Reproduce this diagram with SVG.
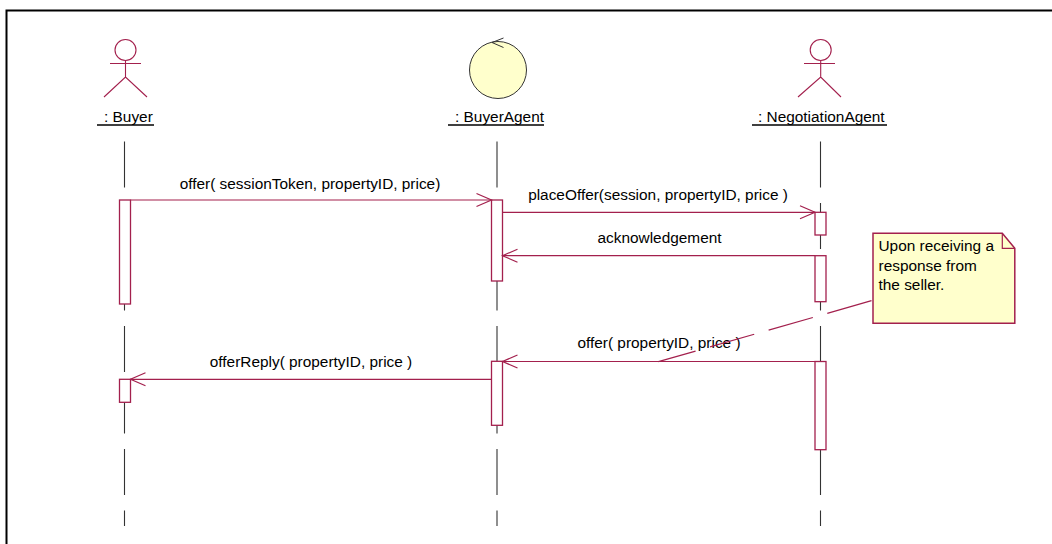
<svg xmlns="http://www.w3.org/2000/svg" width="1052" height="544" viewBox="0 0 1052 544">
<defs>
<style>
text{font-family:"Liberation Sans",Arial,sans-serif;font-size:15.4px;fill:#000}
.mid{text-anchor:middle}
.actor{fill:none;stroke:#A3204D;stroke-width:1.1}
.ul{stroke:#000;stroke-width:1.3}
.life{stroke:#333;stroke-width:1.1;stroke-dasharray:46 15.5}
.act{fill:#fff;stroke:#A3204D;stroke-width:1.3}
.msg{stroke:#A3204D;stroke-width:1.2;fill:none}
.frame{stroke:#000;stroke-width:2;fill:none}
</style>
<marker id="arr" markerUnits="userSpaceOnUse" markerWidth="17" markerHeight="15" refX="15" refY="7" orient="auto" overflow="visible">
<path d="M0,0.5 L15,7 L0,13.5" fill="none" stroke="#A3204D" stroke-width="1.2"/>
</marker>
</defs>
<rect width="1052" height="544" fill="#fff"/>
<path class="frame" d="M6.5,545 V10.5 H1052"/>

<g id="buyer">
<circle class="actor" cx="125.5" cy="50" r="10.5"/>
<path class="actor" d="M125.5,60.5 V77 M110,63.5 H141 M104,97 L125.5,77 L147,97"/>
<text x="104" y="122">: Buyer</text>
<line class="ul" x1="97" y1="125" x2="154" y2="125"/>
<line class="life" x1="124.5" y1="141.5" x2="124.5" y2="526"/>
<rect class="act" x="119.5" y="200" width="11" height="104"/>
<rect class="act" x="119.5" y="379.3" width="11" height="23"/>
</g>

<g id="buyerAgent">
<circle cx="498" cy="70" r="28.5" fill="#FFFFCC" stroke="#333" stroke-width="1"/>
<polyline points="503.5,38 492,42.5 503.5,47.5" fill="none" stroke="#333" stroke-width="1"/>
<text x="455" y="122">: BuyerAgent</text>
<line class="ul" x1="448" y1="125" x2="544" y2="125"/>
<line class="life" x1="497" y1="141.5" x2="497" y2="526"/>
<rect class="act" x="491.5" y="200" width="11" height="81"/>
<rect class="act" x="491.5" y="361.3" width="11" height="64"/>
</g>

<g id="negotiationAgent">
<circle class="actor" cx="820.7" cy="50" r="10.5"/>
<path class="actor" d="M820.7,60.5 V77 M804,63.5 H835 M798,97 L820.7,77 L841,97"/>
<text x="758" y="122">: NegotiationAgent</text>
<line class="ul" x1="752" y1="125" x2="887" y2="125"/>
<line class="life" x1="820.5" y1="141.5" x2="820.5" y2="526" stroke="#555"/>
<rect class="act" x="815" y="212.3" width="11" height="22.7"/>
<rect class="act" x="815" y="255.7" width="11" height="46"/>
<rect class="act" x="815" y="361.5" width="11" height="88.2"/>
</g>

<g id="note">
<path d="M873,233.3 H1002.3 L1014.8,248.3 V323.3 H873 Z" fill="#FFFFCC" stroke="#A3204D" stroke-width="1.5"/>
<path d="M1002.3,233.3 V248.3 H1014.8" fill="none" stroke="#A3204D" stroke-width="1.2"/>
<text x="878.5" y="251">Upon receiving a</text>
<text x="878.5" y="270.5">response from</text>
<text x="878.5" y="290">the seller.</text>
</g>

<g id="connectors">
<line class="msg" x1="130.5" y1="200" x2="491.5" y2="200" marker-end="url(#arr)"/>
<text class="mid" x="310" y="189">offer( sessionToken, propertyID, price)</text>
<line class="msg" x1="502.5" y1="212.3" x2="815" y2="212.3" marker-end="url(#arr)"/>
<text class="mid" x="658" y="200">placeOffer(session, propertyID, price )</text>
<line class="msg" x1="815" y1="255.7" x2="502.5" y2="255.7" marker-end="url(#arr)"/>
<text class="mid" x="659.5" y="243">acknowledgement</text>
<line class="msg" x1="815" y1="361.5" x2="502.5" y2="361.5" marker-end="url(#arr)"/>
<text class="mid" x="659" y="348">offer( propertyID, price )</text>
<line class="msg" x1="491.5" y1="379.3" x2="130.5" y2="379.3" marker-end="url(#arr)"/>
<text class="mid" x="311" y="367">offerReply( propertyID, price )</text>
<line x1="871.5" y1="300.7" x2="658.4" y2="361.7" stroke="#A3204D" stroke-width="1.2" stroke-dasharray="46 15"/>
</g>
</svg>
